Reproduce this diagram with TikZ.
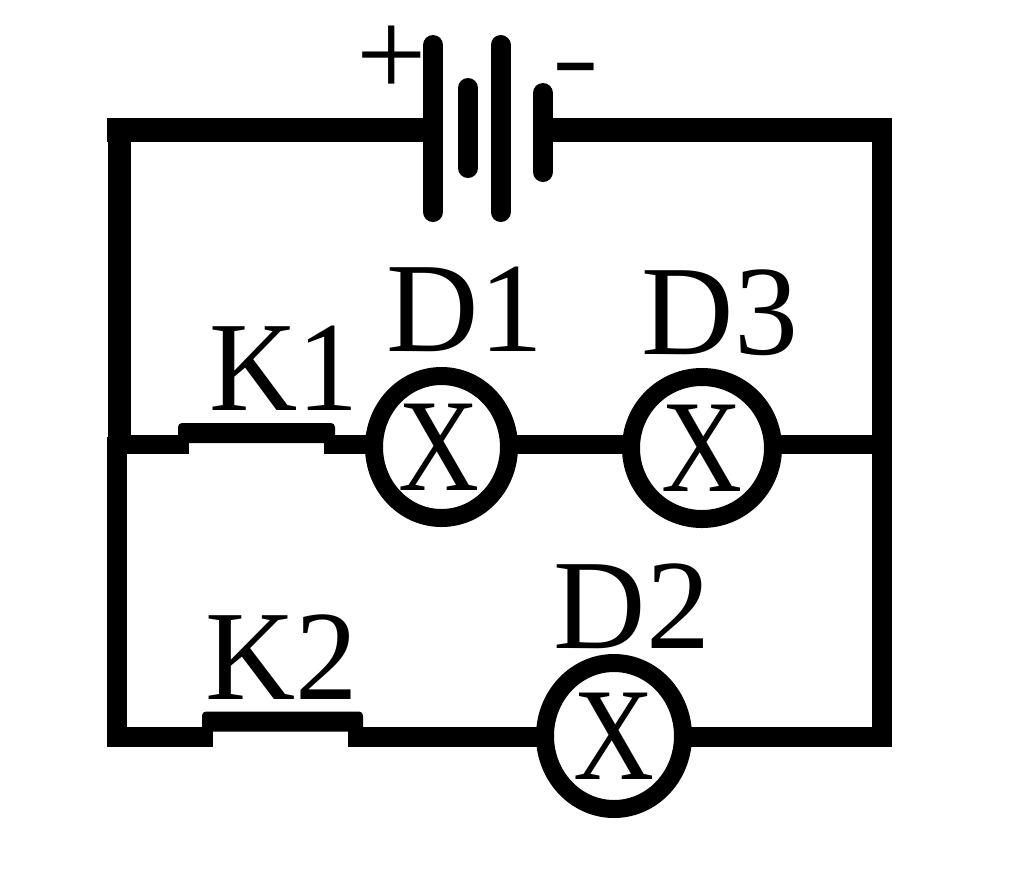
\documentclass[tikz,border=0pt]{standalone}
\usepackage{fontspec}
\usepackage{graphicx}
\usetikzlibrary{shapes.geometric}
\setmainfont{Liberation Serif}
\tikzset{
 topwire/.style={line width=18pt,line cap=butt},
 sidewire/.style={line width=15pt,line cap=butt,line join=miter},
 midwire/.style={line width=14.25pt,line cap=butt},
 swbar/.style={draw=none,fill=black,rectangle,rounded corners=3pt,minimum height=15pt,inner sep=0pt,outer sep=0pt},
 lamp/.style={ellipse,draw,line width=13.5pt,fill=white,inner sep=0pt,outer sep=0pt,font=\fontsize{99pt}{99pt}\selectfont},
 lbl/.style={inner sep=0pt,font=\fontsize{96pt}{96pt}\selectfont},
 plate/.style={line width=15pt,line cap=round}
}
\newcommand{\narrowx}[1]{\scalebox{.85}[1]{#1}}
\begin{document}
\begin{tikzpicture}[x=0.75pt,y=-0.75pt]
\useasboundingbox (0,0) rectangle (1024,886);
\coordinate (bl) at (433,130);
\coordinate (br) at (543,130);
\coordinate (tl) at (107,130);
\coordinate (tr) at (892,130);
\coordinate (ul) at (119,130);
\coordinate (ml) at (119,444.5);
\coordinate (ml2) at (117,437);
\coordinate (mr) at (882,444.5);
\coordinate (ll) at (117,737);
\coordinate (lr) at (882,737);
\coordinate (ur) at (882,130);
\coordinate (k1a) at (189,444.5);
\coordinate (k1b) at (324,444.5);
\coordinate (k2a) at (213,737);
\coordinate (k2b) at (348,737);
\coordinate (p1t) at (433,45);   \coordinate (p1b) at (433,212);
\coordinate (p2t) at (500.5,45); \coordinate (p2b) at (500.5,212);
\coordinate (p3t) at (468,88);   \coordinate (p3b) at (468,168);
\coordinate (p4t) at (543,93);   \coordinate (p4b) at (543,172);
% lamps
\node[lamp,minimum width=101.25pt,minimum height=106.5pt] (d1) at (441.5,447) {\narrowx{X}\kern 4pt};
\node[lamp,minimum width=106.5pt,minimum height=106.5pt] (d3) at (702,448) {\narrowx{X}};
\node[lamp,minimum width=103.5pt,minimum height=109.5pt] (d2) at (614,736) {\narrowx{X}};
% switch bars
\node[swbar,minimum width=117.75pt] (k1) at (256.5,433) {};
\node[swbar,minimum width=120.75pt] (k2) at (282.5,721.5) {};
% wires
\draw[topwire] (bl) -- (tl);
\draw[topwire] (br) -- (tr);
\draw[line width=17.25pt] (ul) -- (ml);
\draw[sidewire] (ml2) -- (ll) -- (k2a);
\draw[sidewire] (ur) -- (lr) -- (lr -| d2.east);
\draw[sidewire] (k2b) -- (k2b -| d2.west);
\draw[midwire] (ml) -- (k1a);
\draw[midwire] (k1b) -- (k1b -| d1.west);
\draw[midwire] (k1b -| d1.east) -- (k1b -| d3.west);
\draw[midwire] (k1b -| d3.east) -- (mr);
% battery
\draw[plate] (p1t) -- (p1b);
\draw[plate] (p2t) -- (p2b);
\draw[plate] (p3t) -- (p3b);
\draw[plate] (p4t) -- (p4b);
% labels
\node[lbl] (ld1) at (465,309) {D1};
\node[lbl] (ld3) at (720,313) {D3};
\node[lbl] (ld2) at (632,606) {D2};
\node[lbl] (lk1) at (284,368) {\scalebox{.955}[1]{K1}};
\node[lbl] (lk2) at (281.5,657) {\scalebox{.975}[1]{K2}};
\node[anchor=base,inner sep=0pt,font=\fontsize{78pt}{78pt}\selectfont] (plus) at (392,96) {\scalebox{1.2}{+}};
\node[anchor=base,inner sep=0pt,font=\fontsize{75pt}{75pt}\selectfont] (minus) at (576,90) {\scalebox{1.4}[1]{-}};
\end{tikzpicture}
\end{document}
